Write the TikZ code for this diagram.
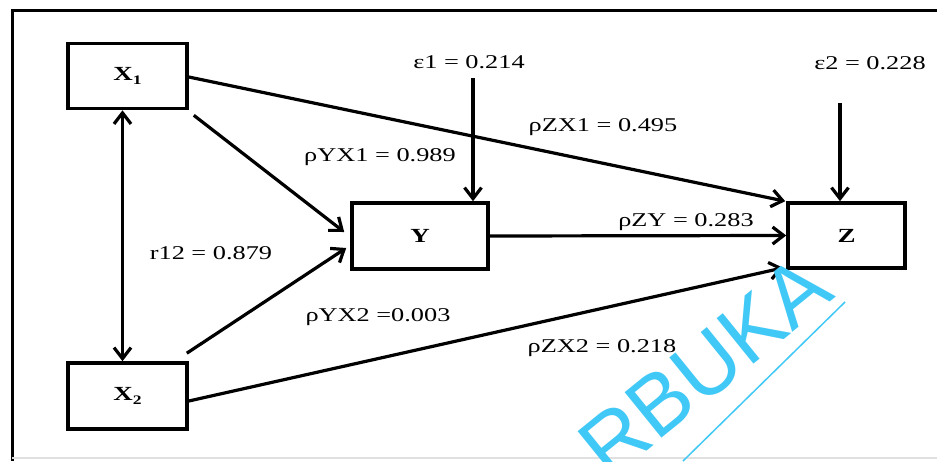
\documentclass[tikz,border=0pt]{standalone}
\usepackage{fontspec}
\setmainfont{Liberation Serif}[FakeStretch=1.35]
\newfontfamily\wmfont{Liberation Sans}
\usetikzlibrary{arrows.meta}
\definecolor{wmcyan}{RGB}{64,200,246}
\newcommand{\lowsub}[1]{\raisebox{-0.35ex}{\fontsize{13}{13}\selectfont #1}}
\tikzset{
  varbox/.style={draw, line width=3.6pt, inner sep=0pt, font=\fontsize{20}{22}\selectfont\bfseries},
  lab/.style={font=\fontsize{19.5}{22}\selectfont, inner sep=0pt},
  conn/.style={line width=3.2pt, -{Straight Barb[length=11pt,width=17pt]}},
  dconn/.style={line width=3.2pt, {Straight Barb[length=11pt,width=17pt]}-{Straight Barb[length=11pt,width=17pt]}}
}
\begin{document}
\begin{tikzpicture}[x=1pt,y=-1pt]
\useasboundingbox (0,0) rectangle (937,461);
\clip (0,0) rectangle (937,461);
\fill[white] (0,0) rectangle (937,461);
% frame
\draw[line width=3pt] (937,10) -- (12,10) -- (12,461);
\draw[black!12, line width=1.5pt] (12,458) -- (937,458);

% variable boxes
\node[varbox, minimum width=119pt, minimum height=65pt] (X1) at (127.5,76) {X\lowsub{1}};
\node[varbox, minimum width=119pt, minimum height=66pt] (X2) at (127.5,396) {X\lowsub{2}};
\node[varbox, minimum width=136pt, minimum height=66pt] (Y) at (420,236) {Y};
\node[varbox, minimum width=117pt, minimum height=65pt] (Z) at (846.5,235.5) {Z};

% labels
\node[lab] (e1) at (469,62) {ε1 = 0.214};
\node[lab] (e2) at (870,63) {ε2 = 0.228};
\node[lab] (lzx1) at (603,127) {ρZX1 = 0.495};
\node[lab] (lyx1) at (380,157) {ρYX1 = 0.989};
\node[lab] (lzy) at (686,222) {ρZY = 0.283};
\node[lab] (lr12) at (211,253) {r12 = 0.879};
\node[lab] (lyx2) at (378,317) {ρYX2 =0.003};
\node[lab] (lzx2) at (602,348) {ρZX2 = 0.218};

% error terms
\coordinate (e1top) at (473,78);
\coordinate (e2top) at (840,103);
\draw[conn] (e1top) -- (Y.north -| e1top);
\draw[conn] (e2top) -- (Z.north -| e2top);

% paths
\draw[dconn] ([xshift=-5pt]X1.south) -- ([xshift=-5pt]X2.north);
\draw[conn] ([shift={(5,5)}]X1.south east) -- ([shift={(-6,-4)}]Y.west);
\draw[conn] ([shift={(-2,-8)}]X2.north east) -- ([shift={(-4,12)}]Y.west);
\draw[conn] ([yshift=-1pt]X1.east) -- ([xshift=-1pt]Z.north west);
\draw[conn] ([yshift=-5pt]X2.east) -- ([shift={(-3,-2)}]Z.south west);
\draw[conn] (Y.east) -- (Z.west);

% watermark
\node[font=\wmfont\fontsize{85}{85}\selectfont, text=wmcyan, rotate=39, anchor=base east, inner sep=0pt] (wm) at (837,297) {RBUKA};
\coordinate (ul1) at (683,461);
\coordinate (ul2) at (845,302);
\draw[wmcyan, line width=1.5pt] (ul1) -- (ul2);
\end{tikzpicture}
\end{document}
